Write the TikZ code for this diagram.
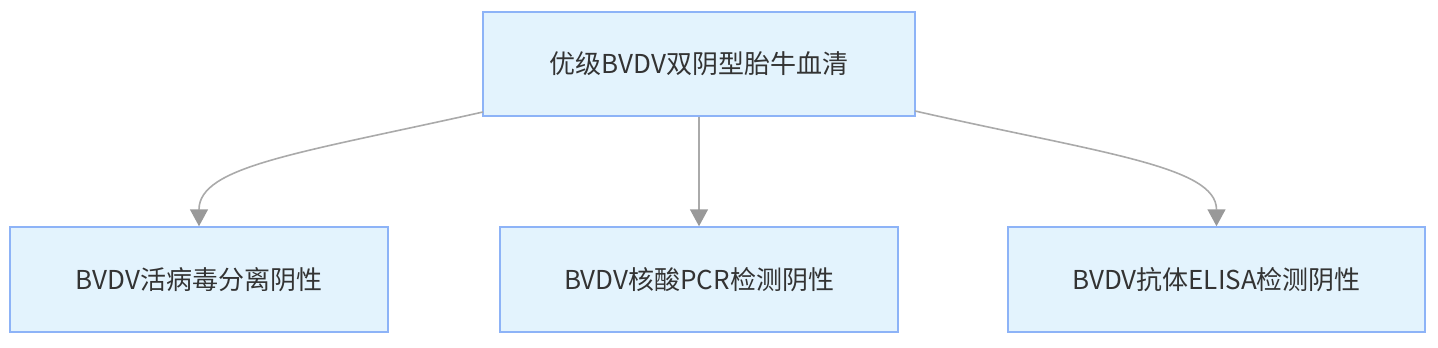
\documentclass[tikz,border=0pt]{standalone}
\usepackage{fontspec}
\setmainfont{Noto Sans CJK SC}
\usetikzlibrary{arrows.meta}
\definecolor{boxfill}{HTML}{E3F3FD}
\definecolor{boxdraw}{HTML}{8DB3F7}
\definecolor{txt}{HTML}{333333}
\definecolor{edge}{HTML}{AAAAAA}
\definecolor{tip}{HTML}{999999}
\begin{document}
\begin{tikzpicture}[x=1pt,y=-1pt,
  box/.style={draw=boxdraw,fill=boxfill,line width=1.5pt,inner sep=0pt,
    text=txt,font=\fontsize{26}{30}\selectfont,anchor=center},
  conn/.style={draw=edge,line width=1.6pt,
    -{Triangle[width=18pt,length=17pt,fill=tip,color=tip]}}]
\useasboundingbox (0,0) rectangle (1438,348);
\node[box,minimum width=432pt,minimum height=104pt] (top) at (699,64) {优级BVDV双阴型胎牛血清};
\node[box,minimum width=378pt,minimum height=105pt] (l) at (199,279.5) {BVDV活病毒分离阴性};
\node[box,minimum width=398pt,minimum height=105pt] (m) at (699,279.5) {BVDV核酸PCR检测阴性};
\node[box,minimum width=417pt,minimum height=105pt] (r) at (1216.5,279.5) {BVDV抗体ELISA检测阴性};
\coordinate (ls) at (483,112);
\coordinate (rs) at (915,111);
\draw[conn] (ls) .. controls (300,153) and (199,166) .. (l.north);
\draw[conn] (top.south) -- (m.north);
\draw[conn] (rs) .. controls (1100,153) and (1216.5,166) .. (r.north);
\end{tikzpicture}
\end{document}
